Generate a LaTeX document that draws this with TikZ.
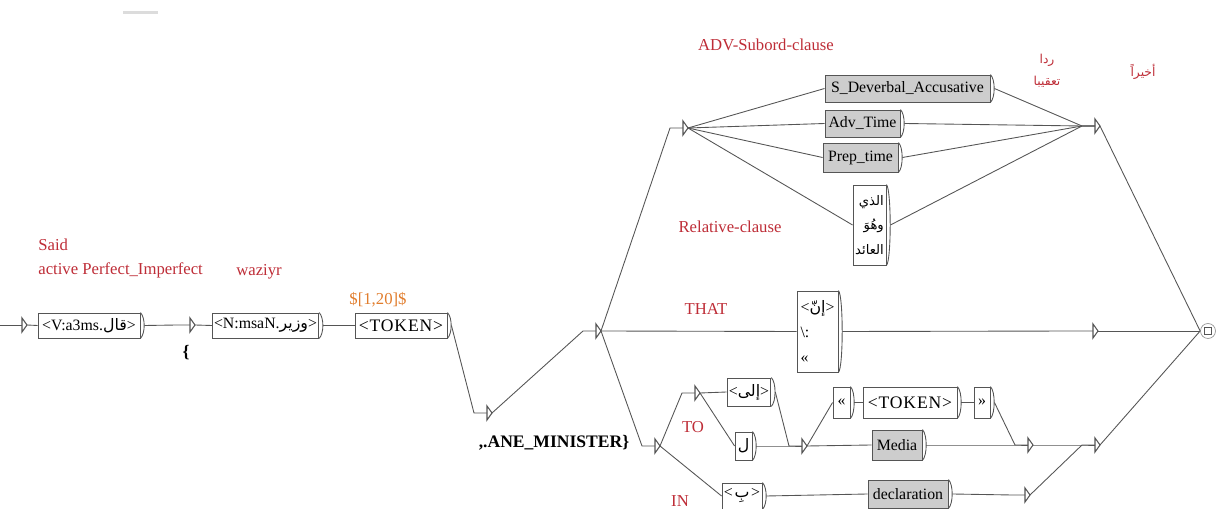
\documentclass[tikz,border=0pt]{standalone}
\usepackage{fontspec}
\setmainfont{Liberation Serif}
\newfontfamily\arabicfont[Script=Arabic]{DejaVu Sans}
\TeXXeTstate=1
\usetikzlibrary{calc}

\definecolor{unired}{RGB}{190,45,55}
\definecolor{uniorange}{RGB}{225,125,45}
\definecolor{unigray}{RGB}{205,205,205}
\definecolor{uniline}{RGB}{85,85,85}

\newcommand\unipx{0.02cm}
\newcommand\ar[1]{{\arabicfont\beginR #1\endR}}

\tikzset{
  unibox/.style={draw=uniline, fill=white, rectangle, inner sep=1pt, line width=0.5pt,
    font=\fontsize{9}{14}\selectfont},
  grybox/.style={unibox, fill=unigray},
  uniedge/.style={draw=uniline, line width=0.5pt},
  unilabel/.style={text=unired, font=\fontsize{9.5}{11}\selectfont, inner sep=0pt},
  trishape/.style={draw=uniline, line width=0.6pt},
  finalstate/.style={draw=uniline!60, circle, inner sep=0pt, minimum size=15*\unipx},
}

\newcommand\boxout[1]{
  \draw[uniedge] (#1.north east) .. controls +(5,5) and +(5,-5) .. (#1.south east);
  \path (#1.east) ++(4,0) coordinate (#1-o);
}
\newcommand\emptybox[3]{
  \coordinate (#1) at (#2,#3);
  \coordinate (#1-o) at (#2+5,#3);
  \draw[trishape] (#2,#3-7) -- ++(0,14) -- ++(5,-7) -- cycle;
}
\newcommand\totri[2]{\draw[uniedge] (#1) -- ($(#2)+(-13,0)$) -- (#2);}
\newcommand\tobox[2]{\draw[uniedge] (#1) -- (#2.west);}

\begin{document}
\begin{tikzpicture}[x=\unipx, y=-\unipx]
  \useasboundingbox (0,0) rectangle (1218,509);
  \fill[unigray!70] (123,11) rectangle (158,14);

  % main line
  \coordinate (start) at (0,325);
  \emptybox{tri0}{22}{325}
  \node[unibox, minimum width=102*\unipx, minimum height=25*\unipx] (boxV) at (89,325.5) {<V:a3ms.\ar{قال}>};
  \boxout{boxV}
  \emptybox{tri1}{190}{325}
  \node[unibox, minimum width=105*\unipx, minimum height=25*\unipx] (boxN) at (265.5,325.5) {<N:msaN.\ar{وزير}>};
  \boxout{boxN}
  \node[unibox, minimum width=92*\unipx, minimum height=25*\unipx,
    font=\fontsize{10}{12}\selectfont\addfontfeature{LetterSpace=5}] (boxTok) at (401,325.5) {<TOKEN>};
  \boxout{boxTok}
  \emptybox{tri2}{487}{413}
  \emptybox{tri3}{596}{331}

  % ADV / relative
  \emptybox{tri4}{683}{128}
  \node[grybox, minimum width=165*\unipx, minimum height=27*\unipx] (boxS) at (907.5,88.5) {S\_Deverbal\_Accusative};
  \boxout{boxS}
  \node[grybox, minimum width=75*\unipx, minimum height=27*\unipx] (boxAdv) at (862.5,123.5) {Adv\_Time};
  \boxout{boxAdv}
  \node[grybox, minimum width=75*\unipx, minimum height=29*\unipx] (boxPrep) at (860.5,157.5) {Prep\_time};
  \boxout{boxPrep}
  \node[unibox, minimum width=33*\unipx, minimum height=80*\unipx, align=right,
    font=\fontsize{7.5}{14}\selectfont] (boxRel) at (869.5,225) {\ar{الذي}\\\ar{وهُوَ}\\\ar{العائد}};
  \boxout{boxRel}
  \emptybox{tri5}{1095}{126}

  % THAT
  \node[unibox, minimum width=41*\unipx, minimum height=81*\unipx, align=left] (boxThat) at (817.5,331.5) {<\ar{إنّ}>\\\textbackslash:\\«};
  \boxout{boxThat}
  \emptybox{tri6}{1093}{331}

  % TO / IN
  \emptybox{tri7}{655}{446}
  \emptybox{tri8}{695}{393}
  \node[unibox, minimum width=42*\unipx, minimum height=28*\unipx] (boxIla) at (749,392) {<\ar{إلى}>};
  \boxout{boxIla}
  \node[unibox, minimum width=17*\unipx, minimum height=28*\unipx] (boxLam) at (743.5,446) {\ar{ل}};
  \boxout{boxLam}
  \emptybox{tri9}{802}{446}
  \node[unibox, minimum width=17*\unipx, minimum height=31*\unipx] (boxLq) at (841.5,402.5) {«};
  \boxout{boxLq}
  \node[unibox, minimum width=94*\unipx, minimum height=31*\unipx,
    font=\fontsize{10}{12}\selectfont\addfontfeature{LetterSpace=5}] (boxTok2) at (910,402.5) {<TOKEN>};
  \boxout{boxTok2}
  \node[unibox, minimum width=16*\unipx, minimum height=31*\unipx] (boxRq) at (982,402.5) {»};
  \boxout{boxRq}
  \node[grybox, minimum width=50*\unipx, minimum height=30*\unipx] (boxMedia) at (897,445) {Media};
  \boxout{boxMedia}
  \emptybox{tri10}{1028}{445}
  \node[unibox, minimum width=40*\unipx, minimum height=26*\unipx] (boxBi) at (742,496) {<\kern1pt\ar{بِ}\kern1pt>};
  \boxout{boxBi}
  \node[grybox, minimum width=80*\unipx, minimum height=28*\unipx] (boxDecl) at (908,494) {declaration};
  \boxout{boxDecl}
  \emptybox{tri11}{1025}{495}
  \emptybox{tri12}{1095}{445}

  \node[finalstate] (final) at (1208,331) {};
  \node[draw=uniline, inner sep=0pt, minimum size=7*\unipx] (finalsq) at (final) {};

  % transitions
  \draw[uniedge] (start) -- (tri0);
  \tobox{tri0-o}{boxV}
  \totri{boxV-o}{tri1}
  \tobox{tri1-o}{boxN}
  \tobox{boxN-o}{boxTok}
  \totri{boxTok-o}{tri2}
  \totri{tri2-o}{tri3}
  \totri{tri3-o}{tri4}
  \tobox{tri3-o}{boxThat}
  \totri{tri3-o}{tri7}
  \tobox{tri4-o}{boxS}
  \tobox{tri4-o}{boxAdv}
  \tobox{tri4-o}{boxPrep}
  \tobox{tri4-o}{boxRel}
  \totri{boxS-o}{tri5}
  \totri{boxAdv-o}{tri5}
  \totri{boxPrep-o}{tri5}
  \totri{boxRel-o}{tri5}
  \draw[uniedge] (tri5-o) -- (final.west);
  \totri{boxThat-o}{tri6}
  \draw[uniedge] (tri6-o) -- (final.west);
  \totri{tri7-o}{tri8}
  \tobox{tri7-o}{boxBi}
  \tobox{tri8-o}{boxIla}
  \tobox{tri8-o}{boxLam}
  \totri{boxIla-o}{tri9}
  \totri{boxLam-o}{tri9}
  \tobox{tri9-o}{boxLq}
  \tobox{tri9-o}{boxMedia}
  \tobox{boxLq-o}{boxTok2}
  \tobox{boxTok2-o}{boxRq}
  \totri{boxRq-o}{tri10}
  \totri{boxMedia-o}{tri10}
  \totri{tri10-o}{tri12}
  \tobox{boxBi-o}{boxDecl}
  \totri{boxDecl-o}{tri11}
  \totri{tri11-o}{tri12}
  \draw[uniedge] (tri12-o) -- (final.west);

  % comments and outputs
  \node[unilabel, anchor=west] (lblSaid) at (38,245) {Said};
  \node[unilabel, anchor=west] (lblActive) at (38,270) {active Perfect\_Imperfect};
  \node[unilabel, anchor=west] (lblWaziyr) at (236,272) {waziyr};
  \node[unilabel, text=uniorange] (lblRange) at (378,300) {\$[1,20]\$};
  \node[font=\fontsize{10}{12}\selectfont\bfseries, inner sep=0pt] (lblBrace) at (186,353) {\{};
  \node[font=\fontsize{10}{12}\selectfont\bfseries, inner sep=0pt] (lblMinister) at (554,443) {,.ANE\_MINISTER\}};
  \node[unilabel] (lblAdv) at (766,45) {ADV-Subord-clause};
  \node[unilabel] (lblRel) at (730,227) {Relative-clause};
  \node[unilabel] (lblThat) at (706,309) {THAT};
  \node[unilabel] (lblTo) at (693,427) {TO};
  \node[unilabel] (lblIn) at (680,501) {IN};
  \node[unilabel, font=\fontsize{7}{9}\selectfont] (lblRadd) at (1047,60) {\ar{ردا}};
  \node[unilabel, font=\fontsize{7}{9}\selectfont] (lblTaqib) at (1047,82) {\ar{تعقيبا}};
  \node[unilabel, font=\fontsize{7}{9}\selectfont] (lblAkhiran) at (1143,72) {\ar{أخيراً}};
\end{tikzpicture}
\end{document}
